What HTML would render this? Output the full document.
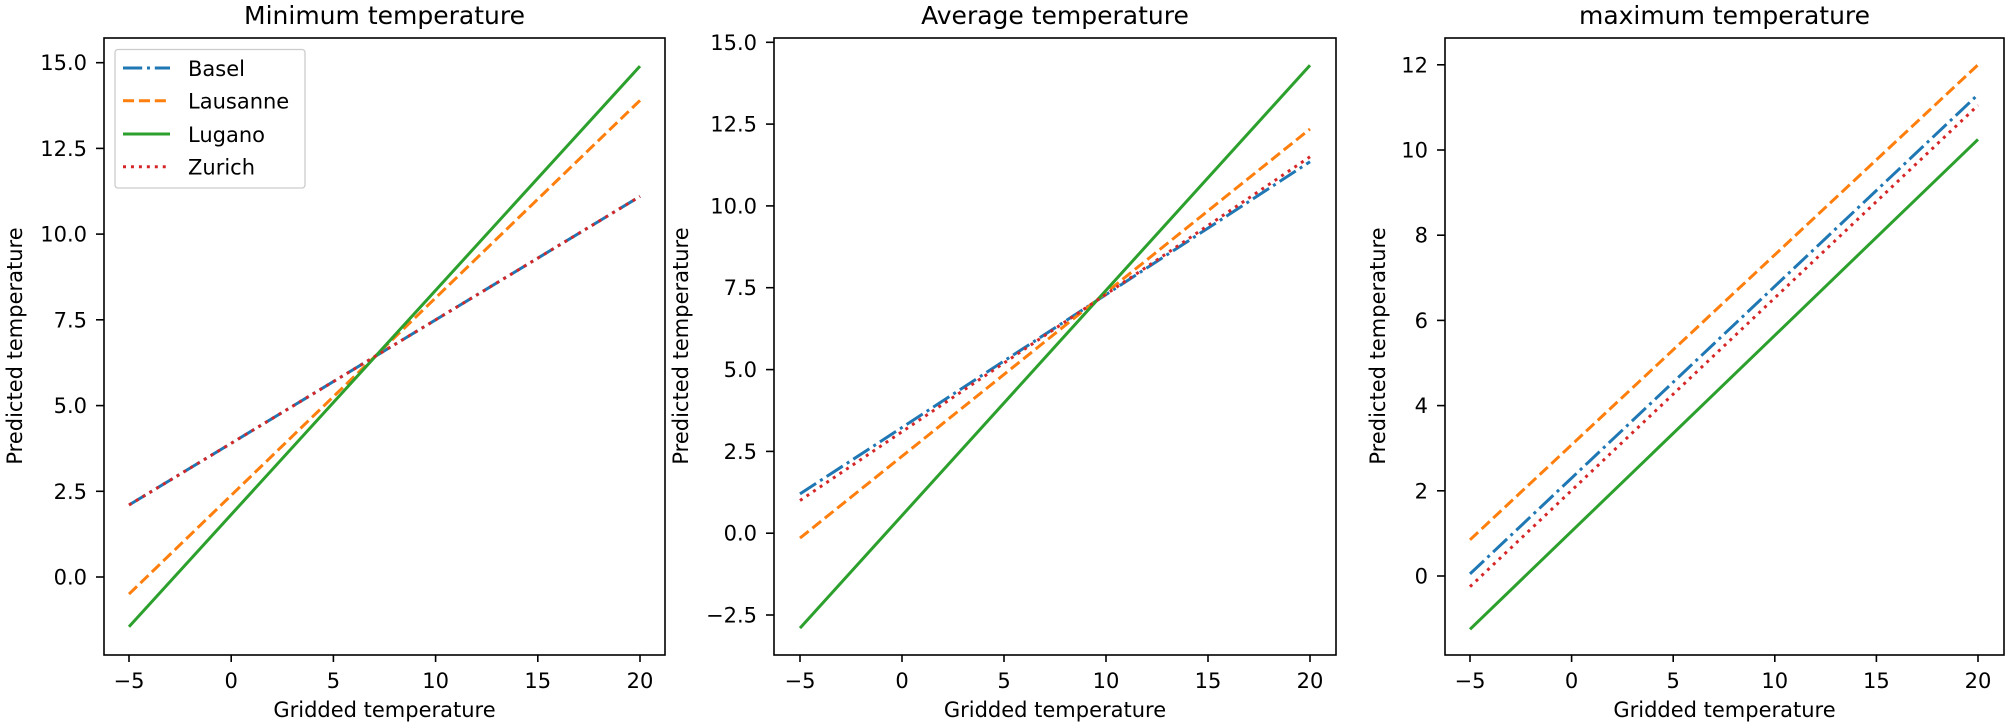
<!DOCTYPE html>
<html><head><meta charset="utf-8"><style>
html,body{margin:0;padding:0;background:#fff;}
svg{display:block;font-family:"DejaVu Sans","Liberation Sans",sans-serif;}
.t{font-size:21px;fill:#000}
.ti{font-size:25px;fill:#000}
.ax{fill:none;stroke:#000;stroke-width:1.6}
.tk{stroke:#000;stroke-width:1.6}
.b{stroke:#1f77b4;stroke-width:3;stroke-dasharray:19.2 4.8 3 4.8;fill:none}
.o{stroke:#ff7f0e;stroke-width:3;stroke-dasharray:11.1 4.8;fill:none}
.g{stroke:#2ca02c;stroke-width:3;fill:none}
.r{stroke:#d62728;stroke-width:3;stroke-dasharray:3 4.95;fill:none}
</style></head><body>
<svg width="2007" height="726" viewBox="0 0 2007 726">
<!-- Panel 1 -->
<text class="ti" x="384.5" y="24" text-anchor="middle">Minimum temperature</text>
<line class="b" x1="129" y1="505" x2="640" y2="196.4"/>
<line class="o" x1="129" y1="594.1" x2="640" y2="100.4"/>
<line class="g" x1="129" y1="626.7" x2="640" y2="66.1"/>
<line class="r" x1="129" y1="505" x2="640" y2="196.4"/>
<rect class="ax" x="104" y="38" width="561" height="617"/>
<g class="tk">
<line x1="129" y1="655" x2="129" y2="662"/><line x1="231.2" y1="655" x2="231.2" y2="662"/><line x1="333.4" y1="655" x2="333.4" y2="662"/><line x1="435.6" y1="655" x2="435.6" y2="662"/><line x1="537.8" y1="655" x2="537.8" y2="662"/><line x1="640" y1="655" x2="640" y2="662"/>
<line x1="96" y1="577" x2="104" y2="577"/><line x1="96" y1="491.3" x2="104" y2="491.3"/><line x1="96" y1="405.6" x2="104" y2="405.6"/><line x1="96" y1="319.8" x2="104" y2="319.8"/><line x1="96" y1="234.1" x2="104" y2="234.1"/><line x1="96" y1="148.4" x2="104" y2="148.4"/><line x1="96" y1="62.7" x2="104" y2="62.7"/>
</g>
<g class="t" text-anchor="middle">
<text x="129" y="688">−5</text><text x="231.2" y="688">0</text><text x="333.4" y="688">5</text><text x="435.6" y="688">10</text><text x="537.8" y="688">15</text><text x="640" y="688">20</text>
</g>
<g class="t" text-anchor="end">
<text x="87" y="584.5">0.0</text><text x="87" y="498.8">2.5</text><text x="87" y="413.1">5.0</text><text x="87" y="327.3">7.5</text><text x="87" y="241.6">10.0</text><text x="87" y="155.9">12.5</text><text x="87" y="70.2">15.0</text>
</g>
<text class="t" x="384.5" y="717" text-anchor="middle">Gridded temperature</text>
<text class="t" transform="translate(22,346) rotate(-90)" text-anchor="middle">Predicted temperature</text>
<rect x="115" y="49.5" width="190" height="138.5" rx="3" fill="#fff" stroke="#ccc" stroke-width="1.3"/>
<line class="b" x1="123" y1="68" x2="170" y2="68"/>
<line class="o" x1="123" y1="100.7" x2="170" y2="100.7"/>
<line class="g" x1="123" y1="134" x2="170" y2="134"/>
<line class="r" x1="123" y1="166.7" x2="170" y2="166.7"/>
<g class="t"><text x="188" y="76">Basel</text><text x="188" y="108.7">Lausanne</text><text x="188" y="142">Lugano</text><text x="188" y="174.7">Zurich</text></g>

<!-- Panel 2 -->
<text class="ti" x="1055" y="24" text-anchor="middle">Average temperature</text>
<line class="b" x1="800" y1="493.9" x2="1310" y2="161.7"/>
<line class="o" x1="800" y1="538.1" x2="1310" y2="129"/>
<line class="g" x1="800" y1="628.1" x2="1310" y2="65.2"/>
<line class="r" x1="800" y1="500.5" x2="1310" y2="156.8"/>
<rect class="ax" x="774" y="38" width="562" height="617"/>
<g class="tk">
<line x1="800" y1="655" x2="800" y2="662"/><line x1="902" y1="655" x2="902" y2="662"/><line x1="1004" y1="655" x2="1004" y2="662"/><line x1="1106" y1="655" x2="1106" y2="662"/><line x1="1208" y1="655" x2="1208" y2="662"/><line x1="1310" y1="655" x2="1310" y2="662"/>
<line x1="766" y1="615" x2="774" y2="615"/><line x1="766" y1="533.2" x2="774" y2="533.2"/><line x1="766" y1="451.4" x2="774" y2="451.4"/><line x1="766" y1="369.6" x2="774" y2="369.6"/><line x1="766" y1="287.7" x2="774" y2="287.7"/><line x1="766" y1="205.9" x2="774" y2="205.9"/><line x1="766" y1="124.1" x2="774" y2="124.1"/><line x1="766" y1="42.3" x2="774" y2="42.3"/>
</g>
<g class="t" text-anchor="middle">
<text x="800" y="688">−5</text><text x="902" y="688">0</text><text x="1004" y="688">5</text><text x="1106" y="688">10</text><text x="1208" y="688">15</text><text x="1310" y="688">20</text>
</g>
<g class="t" text-anchor="end">
<text x="757" y="622.5">−2.5</text><text x="757" y="540.7">0.0</text><text x="757" y="458.9">2.5</text><text x="757" y="377.1">5.0</text><text x="757" y="295.2">7.5</text><text x="757" y="213.4">10.0</text><text x="757" y="131.6">12.5</text><text x="757" y="49.8">15.0</text>
</g>
<text class="t" x="1055" y="717" text-anchor="middle">Gridded temperature</text>
<text class="t" transform="translate(688,346) rotate(-90)" text-anchor="middle">Predicted temperature</text>

<!-- Panel 3 -->
<text class="ti" x="1724.5" y="24" text-anchor="middle">maximum temperature</text>
<line class="b" x1="1470" y1="573.9" x2="1978" y2="94.6"/>
<line class="o" x1="1470" y1="539.8" x2="1978" y2="64.8"/>
<line class="g" x1="1470" y1="629.3" x2="1978" y2="139.4"/>
<line class="r" x1="1470" y1="586.7" x2="1978" y2="105.3"/>
<rect class="ax" x="1445" y="38" width="559" height="617"/>
<g class="tk">
<line x1="1470" y1="655" x2="1470" y2="662"/><line x1="1571.6" y1="655" x2="1571.6" y2="662"/><line x1="1673.2" y1="655" x2="1673.2" y2="662"/><line x1="1774.8" y1="655" x2="1774.8" y2="662"/><line x1="1876.4" y1="655" x2="1876.4" y2="662"/><line x1="1978" y1="655" x2="1978" y2="662"/>
<line x1="1437" y1="576" x2="1445" y2="576"/><line x1="1437" y1="490.8" x2="1445" y2="490.8"/><line x1="1437" y1="405.6" x2="1445" y2="405.6"/><line x1="1437" y1="320.4" x2="1445" y2="320.4"/><line x1="1437" y1="235.2" x2="1445" y2="235.2"/><line x1="1437" y1="150" x2="1445" y2="150"/><line x1="1437" y1="64.8" x2="1445" y2="64.8"/>
</g>
<g class="t" text-anchor="middle">
<text x="1470" y="688">−5</text><text x="1571.6" y="688">0</text><text x="1673.2" y="688">5</text><text x="1774.8" y="688">10</text><text x="1876.4" y="688">15</text><text x="1978" y="688">20</text>
</g>
<g class="t" text-anchor="end">
<text x="1428" y="583.5">0</text><text x="1428" y="498.3">2</text><text x="1428" y="413.1">4</text><text x="1428" y="327.9">6</text><text x="1428" y="242.7">8</text><text x="1428" y="157.5">10</text><text x="1428" y="72.3">12</text>
</g>
<text class="t" x="1724.5" y="717" text-anchor="middle">Gridded temperature</text>
<text class="t" transform="translate(1385,346) rotate(-90)" text-anchor="middle">Predicted temperature</text>
</svg>
</body></html>
